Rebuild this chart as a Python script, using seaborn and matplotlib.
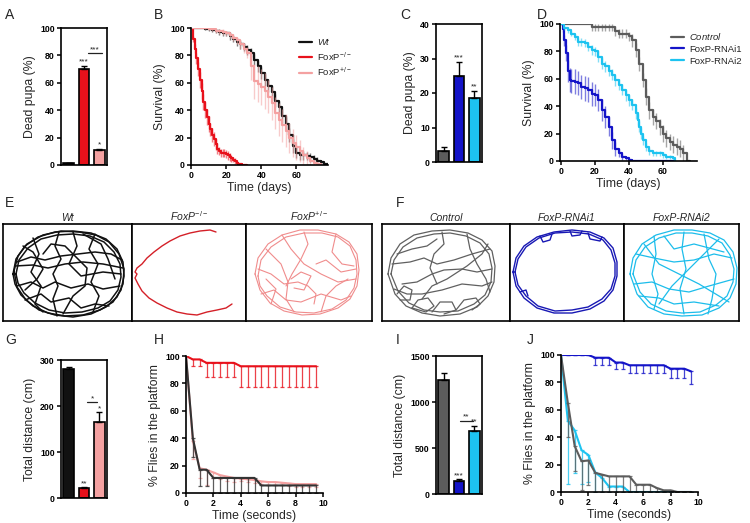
import numpy as np
import pandas as pd
import matplotlib
matplotlib.use('Agg')
import matplotlib.pyplot as plt
import seaborn as sns

sns.set_theme(style='ticks')
plt.rcParams['font.family'] = ['Liberation Sans', 'DejaVu Sans']
plt.rcParams['mathtext.fontset'] = 'custom'
plt.rcParams['mathtext.rm'] = 'Liberation Sans'
plt.rcParams['mathtext.it'] = 'Liberation Sans:italic'
plt.rcParams['mathtext.default'] = 'regular'
plt.rcParams['axes.linewidth'] = 1.2

# ============================================
# Colours
# ============================================
BLACK = '#111111'
RED = '#E8111B'
PINK = '#F4A1A1'
GRAY = '#5C5C5C'
BLUE = '#1414C8'
CYAN = '#1DC3F0'

# ============================================
# Data
# ============================================
# A / C / G / I - bar charts
mut_groups = ['Wt', 'FoxP-/-', 'FoxP+/-']
rnai_groups = ['Control', 'FoxP-RNAi1', 'FoxP-RNAi2']

dead_pupa_mut = [1.2, 70, 11]
dead_pupa_mut_err = [0.3, 2.5, 1]
dead_pupa_rnai = [3.2, 25, 18.5]
dead_pupa_rnai_err = [1.2, 4, 2]
distance_mut = [280, 22, 165]
distance_mut_err = [5, 2, 22]
distance_rnai = [1240, 145, 680]
distance_rnai_err = [70, 15, 60]

# B - survival of mutants
wt_days = [0, 2, 4, 6, 8, 10, 12, 14, 16, 18, 20, 22, 24, 26, 28, 30, 32, 34, 36, 38,
           40, 42, 44, 46, 48, 50, 52, 54, 56, 58, 60, 62, 64, 66, 68, 70, 72, 74, 76, 78]
wt_surv = [100, 100, 100, 100, 99.5, 99, 98.5, 98, 97, 96.5, 96, 94, 92, 90, 88, 86, 84, 82, 77, 72,
           67, 62, 58, 53, 47, 42, 36, 30, 22, 14, 9, 7.5, 7, 6.5, 5.5, 4.5, 3, 2, 0.5, 0]
wt_sem = [0, 0, 0, 0, 1, 1, 1.5, 1.5, 2, 2, 2, 2.5, 2.5, 3, 3, 3, 3.5, 3.5, 4, 4,
          4.5, 4.5, 4.5, 5, 5, 5, 5, 5, 5, 5, 4, 3.5, 3, 3, 3, 3, 2.5, 2, 1, 0]

het_days = [0, 2, 4, 6, 8, 10, 12, 14, 16, 18, 20, 22, 24, 26, 28, 30, 32, 34, 36, 38,
            40, 42, 44, 46, 48, 50, 52, 54, 56, 58, 60, 62, 64, 66, 68, 70, 72, 74]
het_surv = [100, 100, 100, 100, 100, 99.5, 99, 98, 97.5, 97, 96, 95, 93, 91, 88, 85, 82, 72, 61, 59,
            57, 54, 50, 45, 38, 33, 29, 25, 20, 16, 13, 10, 7, 5, 3, 1.5, 1, 0]
het_sem = [0, 0, 0, 0, 1, 1, 1.5, 1.5, 2, 2, 2, 2, 2.5, 2.5, 3, 3, 4, 10, 13, 13,
           13, 13, 12, 12, 12, 12, 12, 12, 11, 10, 9, 8, 6, 5, 3, 2, 1, 0]

hom_days = [0, 1, 2, 3, 4, 5, 6, 7, 8, 9, 10, 11, 12, 13, 14, 15, 16, 17, 18, 19,
            20, 21, 22, 23, 24, 25, 26, 27, 28, 29, 30, 31, 32]
hom_surv = [100, 92, 85, 78, 70, 62, 54, 46, 40, 35, 30, 26, 22, 19, 15, 12, 10, 9, 9, 8.5,
            8, 7, 6, 5, 4, 3, 1.5, 1, 0.5, 0, 0, 0, 0]
hom_sem = [0, 2, 3, 4, 5, 6, 6, 6, 6, 6, 6, 5, 5, 5, 4, 4, 3, 3, 3, 3,
           3, 3, 3, 2.5, 2, 2, 1.5, 1, 0.5, 0, 0, 0, 0]

# D - survival of RNAi lines
ctrl_days = [0, 2, 4, 6, 8, 10, 12, 14, 16, 18, 20, 22, 24, 26, 28, 30, 32, 34, 36, 38,
             40, 42, 44, 46, 48, 50, 52, 54, 56, 58, 60, 62, 64, 66, 68, 70, 72, 74, 76]
ctrl_surv = [100, 100, 100, 100, 100, 100, 100, 100, 100, 97.5, 97.5, 97.5, 97.5, 97.5, 97.5, 97.5, 95, 93, 93, 93,
             91, 88, 81, 71, 59, 47, 37, 32, 29, 25, 20, 16.5, 14, 12, 10.5, 9, 5.5, 0, 0]
ctrl_sem = [0, 0, 0, 0, 0, 0, 0, 0, 0, 2.5, 2.5, 2.5, 2.5, 2.5, 2.5, 2.5, 3.5, 3.5, 3.5, 3.5,
            3.5, 5, 5, 5, 5, 6, 6, 6, 6, 6, 6, 6, 6, 6, 6, 6, 6, 0, 0]

ri1_days = [0, 1, 2, 3, 4, 5, 6, 8, 10, 12, 14, 16, 18, 20, 22, 24, 26, 28, 30, 32,
            34, 36, 38, 40, 42, 50, 60, 67]
ri1_surv = [100, 96, 88, 79, 66, 59, 58.5, 58, 57, 54, 53, 52, 49, 48, 44.5, 37, 32, 25, 15, 9,
            5.6, 3, 2, 0.7, 0, 0, 0, 0]
ri1_sem = [0, 2, 4, 6, 8, 9, 9, 9, 9, 9, 9, 9, 9, 8, 8, 8, 8, 7, 6, 5,
           3, 2, 1, 0.5, 0, 0, 0, 0]

ri2_days = [0, 2, 4, 6, 8, 10, 12, 14, 16, 18, 20, 22, 24, 26, 28, 30, 32, 34, 36, 38,
            40, 42, 44, 45, 46, 47, 48, 50, 52, 54, 56, 58, 60, 62, 64, 66, 67]
ri2_surv = [100, 97, 95.6, 93, 90.5, 87, 87, 86, 83.5, 81, 80, 76, 71, 69, 66, 63, 59, 55.5, 52, 48,
            44.5, 41, 35, 30, 25, 20, 15, 10.5, 7, 5.6, 5.6, 5.6, 4.4, 3, 3, 2, 0]
ri2_sem = [0, 1.5, 2, 2, 2.5, 3, 3, 3, 3.5, 3.5, 3.5, 4, 4, 4, 4, 4, 4, 4, 4, 4,
           4, 4, 4, 4, 4, 4, 3.5, 3, 2.5, 2, 2, 2, 2, 1.5, 1.5, 1, 0]

# H / J - flies remaining on the platform
platform_t = [0, 0.5, 1, 1.5, 2, 2.5, 3, 3.5, 4, 4.5, 5, 5.5, 6, 6.5, 7, 7.5, 8, 8.5, 9, 9.5]
plat_hom = [100, 97.5, 97.5, 95, 95, 95, 95, 95, 92.5, 92.5, 92.5, 92.5, 92.5, 92.5, 92.5, 92.5, 92.5, 92.5, 92.5, 92.5]
plat_hom_err = [0, 5, 5, 10, 10, 10, 10, 10, 15, 15, 15, 15, 15, 15, 15, 15, 15, 15, 15, 15]
plat_het = [100, 38, 18, 17, 15, 13, 12, 11, 10.5, 10, 9.5, 8.5, 8, 8, 7.5, 7, 6.5, 6.5, 6.5, 6.5]
plat_het_err = [0, 13, 7, 11, 4, 3, 3, 3, 2, 2, 2, 2, 2, 2, 2, 2, 2, 2, 2, 2]
plat_wt = [100, 40, 17, 17, 11, 11, 11, 11, 11, 11, 11, 5.5, 5.5, 5.5, 5.5, 5.5, 5.5, 5.5, 5.5, 5.5]
plat_wt_err = [0, 14, 12, 12, 11, 11, 11, 11, 11, 11, 11, 5.5, 5.5, 5.5, 5.5, 5.5, 5.5, 5.5, 5.5, 5.5]

plat_ri1 = [100, 100, 100, 100, 100, 98, 98, 98, 94.5, 94.5, 92.5, 92.5, 92.5, 92.5, 92.5, 92.5, 90, 90, 90, 88]
plat_ri1_err = [0, 0, 0, 0, 0, 5, 5, 5, 4.5, 4.5, 6, 6, 6, 6, 6, 6, 7, 7, 7, 9]
plat_ri2 = [100, 52, 45, 30.5, 27, 14.3, 10.2, 4, 4, 4, 0, 0, 0, 0, 0, 0, 0, 0, 0, 0]
plat_ri2_err = [0, 46, 31, 25, 20, 14, 10, 4, 4, 4, 0, 0, 0, 0, 0, 0, 0, 0, 0, 0]
plat_ctrl = [100, 65, 33.5, 22.5, 23, 14, 12.7, 11.4, 11.4, 11.4, 11.4, 5.3, 5.3, 5.3, 2.9, 1.2, 1.2, 0, 0, 0]
plat_ctrl_err = [0, 25, 18, 21, 18, 14, 12.7, 11.4, 11.4, 11.4, 11.4, 5.3, 5.3, 5.3, 2.9, 1.2, 1.2, 0, 0, 0]

# E / F - walking tracks (box-relative pixel coords, y down)
track_wt = [
    [(10, 50), (13, 35), (22, 22), (35, 13), (52, 8), (70, 7), (88, 9), (103, 15), (114, 25), (120, 38), (121, 52),
     (118, 66), (110, 78), (97, 86), (80, 91), (62, 92), (45, 89), (30, 82), (18, 71), (12, 60), (10, 50)],
    [(13, 50), (16, 36), (25, 24), (38, 15), (54, 11), (70, 10), (87, 12), (101, 18), (111, 28), (117, 40), (118, 53),
     (115, 66), (107, 77), (95, 84), (79, 88), (62, 89), (46, 86), (32, 79), (21, 69), (15, 59), (13, 50)],
    [(11, 47), (15, 32), (24, 20), (40, 11), (58, 7), (76, 8), (93, 11), (106, 18), (116, 30), (121, 45), (120, 60),
     (114, 73), (103, 83), (88, 90), (70, 93), (52, 91), (36, 86), (23, 76), (14, 63), (11, 47)],
    [(14, 38), (28, 33), (42, 36), (58, 32), (75, 30), (92, 28), (108, 30), (119, 36)],
    [(12, 42), (30, 41), (45, 44), (62, 40), (80, 38), (100, 40), (120, 44)],
    [(56, 8), (52, 22), (58, 35), (50, 50), (55, 62), (50, 75), (54, 92)],
    [(30, 14), (36, 30), (28, 48), (38, 62), (32, 80), (40, 88)],
    [(92, 10), (86, 25), (95, 40), (88, 58), (96, 72), (90, 88)],
    [(14, 62), (28, 58), (40, 64), (52, 58), (68, 64), (85, 60), (100, 65), (117, 62)],
    [(22, 76), (38, 70), (48, 78), (66, 74), (78, 84), (92, 80), (106, 82)],
    [(70, 8), (74, 22), (66, 40), (78, 52), (100, 48), (118, 50)],
    [(20, 22), (30, 28), (40, 45), (34, 55), (22, 66)],
    [(80, 10), (98, 20), (105, 35), (112, 55)],
    [(40, 30), (48, 20), (62, 22), (70, 30), (84, 44), (82, 62), (70, 72), (60, 90)],
]
track_hom = [
    [(84, 8), (78, 6), (68, 7), (58, 9), (48, 12), (38, 17), (30, 22), (22, 28), (15, 34), (10, 40), (5, 44),
     (3, 48), (5, 50), (3, 54), (6, 60), (10, 67), (17, 74), (25, 79), (35, 84), (45, 88), (55, 90), (65, 91),
     (75, 88), (85, 86), (94, 84), (100, 80)],
]
track_het = [
    [(9, 50), (12, 34), (22, 20), (36, 11), (54, 6), (72, 6), (90, 10), (103, 18), (111, 30), (113, 46), (111, 62),
     (104, 75), (92, 84), (74, 90), (56, 91), (38, 87), (24, 79), (14, 66), (9, 50)],
    [(12, 52), (15, 36), (25, 23), (40, 13), (58, 9), (76, 9), (92, 13), (104, 22), (110, 36), (111, 50), (108, 64),
     (100, 76), (86, 85), (68, 89), (50, 88), (34, 83), (21, 72), (14, 62), (12, 52)],
    [(20, 25), (35, 40), (42, 58), (40, 75), (48, 88)],
    [(36, 11), (45, 25), (58, 40), (75, 50), (92, 58), (110, 55)],
    [(58, 8), (62, 20), (55, 35), (46, 50), (40, 62)],
    [(90, 10), (86, 28), (96, 40), (108, 42)],
    [(12, 45), (25, 50), (38, 60), (52, 58), (62, 62), (70, 70), (68, 80)],
    [(45, 55), (55, 48), (65, 52), (58, 66), (48, 64)],
    [(70, 40), (80, 36), (95, 48), (110, 45)],
    [(15, 70), (28, 66), (40, 76), (55, 78), (75, 70), (95, 76), (105, 72)],
    [(75, 88), (80, 72), (90, 62), (102, 55)],
    [(25, 80), (30, 65), (20, 55)],
]
track_ctrl = [
    [(6, 50), (9, 34), (18, 20), (32, 11), (50, 7), (68, 6), (86, 9), (100, 16), (110, 27), (113, 42), (112, 58),
     (106, 72), (95, 83), (78, 90), (58, 92), (40, 89), (24, 82), (13, 70), (6, 50)],
    [(9, 50), (12, 36), (21, 23), (35, 14), (52, 10), (68, 9), (84, 12), (98, 19), (107, 30), (110, 44), (109, 58),
     (103, 71), (92, 80), (76, 87), (58, 88), (42, 86), (27, 79), (16, 67), (9, 50)],
    [(30, 84), (36, 76), (46, 74), (52, 82), (44, 88), (30, 84)],
    [(50, 88), (58, 78), (70, 78), (74, 86), (62, 90)],
    [(74, 86), (82, 76), (94, 74), (98, 80), (90, 86)],
    [(15, 70), (22, 62), (30, 66), (28, 76), (18, 76)],
    [(10, 40), (28, 38), (42, 34), (55, 40), (72, 36), (90, 30), (108, 25)],
    [(20, 60), (35, 58), (50, 50), (62, 46), (80, 45), (95, 48), (110, 45)],
    [(40, 75), (50, 62), (65, 55), (85, 42), (100, 30), (106, 20)],
    [(15, 30), (30, 25), (45, 22), (55, 15)],
    [(85, 10), (88, 25), (95, 40), (104, 55), (108, 68)],
    [(60, 8), (62, 20), (52, 30), (48, 44), (55, 60)],
    [(12, 65), (25, 70), (40, 70), (60, 66), (80, 60), (100, 62), (110, 58)],
]
track_ri1 = [
    [(3, 48), (6, 34), (14, 22), (27, 13), (44, 8), (62, 6), (80, 8), (94, 14), (103, 24), (107, 38), (107, 52),
     (103, 66), (94, 77), (80, 85), (62, 89), (44, 89), (27, 84), (14, 74), (6, 62), (3, 48)],
    [(5, 48), (8, 35), (16, 23), (29, 14), (45, 9), (62, 8), (79, 10), (93, 16), (101, 26), (105, 39), (105, 52),
     (101, 65), (92, 75), (78, 83), (62, 86), (45, 87), (28, 82), (16, 72), (8, 61), (5, 48)],
    [(30, 12), (33, 18), (40, 16), (42, 10)],
    [(78, 9), (80, 15), (90, 17), (92, 13)],
    [(10, 68), (16, 66), (18, 72)],
    [(60, 7), (62, 12), (70, 11), (72, 7)],
]
track_ri2 = [
    [(6, 50), (9, 34), (18, 20), (32, 11), (50, 6), (68, 6), (86, 9), (100, 16), (109, 28), (113, 44), (112, 60),
     (106, 74), (95, 84), (78, 91), (58, 92), (40, 90), (24, 83), (13, 70), (6, 50)],
    [(9, 50), (12, 36), (21, 23), (35, 14), (52, 9), (68, 9), (84, 12), (98, 19), (106, 31), (110, 45), (109, 58),
     (103, 72), (92, 81), (76, 88), (58, 89), (42, 87), (27, 80), (16, 68), (9, 50)],
    [(12, 30), (30, 34), (50, 38), (70, 36), (90, 30), (108, 34)],
    [(20, 20), (35, 40), (55, 50), (75, 60), (95, 72), (105, 78)],
    [(30, 12), (32, 30), (28, 50), (34, 70), (30, 85)],
    [(95, 15), (80, 30), (62, 48), (48, 62), (35, 80)],
    [(60, 8), (58, 25), (62, 45), (56, 65), (60, 90)],
    [(10, 60), (28, 58), (45, 65), (65, 68), (85, 62), (110, 55)],
    [(80, 10), (85, 35), (92, 50), (88, 75), (84, 90)],
    [(15, 72), (35, 74), (50, 80), (70, 78), (95, 82)],
    [(40, 12), (50, 25), (70, 20), (100, 28)],
]

# ============================================
# Layout helpers
# ============================================
FW, FH = 750, 523
fig = plt.figure(figsize=(7.5, 5.23), dpi=100)


def rect(l, t, r, b):
    return [l / FW, 1 - b / FH, (r - l) / FW, (b - t) / FH]


def style_ticks(ax):
    ax.tick_params(direction='out', length=3, width=1.1, labelsize=6.3, pad=1.5, colors='black')
    for lbl in ax.get_xticklabels() + ax.get_yticklabels():
        lbl.set_fontweight('bold')
    for s in ax.spines.values():
        s.set_color('black')


def bar_panel(box, groups, vals, errs, colors, ylim, yticks, ylabel):
    ax = fig.add_axes(rect(*box))
    df = pd.DataFrame({'group': groups, 'value': vals})
    sns.barplot(data=df, x='group', y='value', hue='group', palette=dict(zip(groups, colors)),
                legend=False, width=0.7, saturation=1, edgecolor='black', linewidth=1.2,
                errorbar=None, ax=ax)
    ax.errorbar(range(len(vals)), vals, yerr=[[0] * len(vals), errs], fmt='none',
                ecolor='black', elinewidth=1, capsize=2, capthick=1)
    ax.set_xlim(-0.5, 2.5)
    ax.set_ylim(*ylim)
    ax.set_yticks(yticks)
    ax.set_xticks([])
    ax.set_xlabel('')
    ax.set_ylabel(ylabel, fontsize=8.8, labelpad=3)
    style_ticks(ax)
    return ax


def survival_panel(box, series, xticks, xlim, legend_anchor):
    ax = fig.add_axes(rect(*box))
    for days, surv, sem, color, label in series:
        d = np.array(days, dtype=float)
        s = np.array(surv, dtype=float)
        e = np.array(sem, dtype=float)
        ax.vlines(d[e > 0], (s - e)[e > 0], (s + e)[e > 0], color=color, alpha=0.55, lw=1.0)
        sns.lineplot(x=d, y=s, color=color, lw=1.6, drawstyle='steps-post', estimator=None,
                     label=label, ax=ax)
    ax.set_xlim(*xlim)
    ax.set_ylim(0, 100)
    ax.set_xticks(xticks)
    ax.set_yticks([0, 20, 40, 60, 80, 100])
    ax.set_xlabel('Time (days)', fontsize=8.8, labelpad=1)
    ax.set_ylabel('Survival (%)', fontsize=8.8, labelpad=3)
    sns.despine(ax=ax)
    ax.legend(frameon=False, fontsize=6.8, loc='upper left', bbox_to_anchor=legend_anchor,
              handlelength=1.4, handletextpad=0.5, labelspacing=0.3, borderpad=0, borderaxespad=0)
    style_ticks(ax)
    return ax


def platform_panel(box, series):
    ax = fig.add_axes(rect(*box))
    t = np.array(platform_t)
    for vals, errs, color in series:
        v = np.array(vals, dtype=float)
        e = np.array(errs, dtype=float)
        ax.errorbar(t[1:], v[1:], yerr=[e[1:], np.zeros(len(e) - 1)], fmt='none', ecolor=color,
                    elinewidth=0.9, capsize=1.5, capthick=0.9, alpha=0.8)
        sns.lineplot(x=t, y=v, color=color, lw=1.5, estimator=None, ax=ax)
    ax.set_xlim(0, 10)
    ax.set_ylim(0, 100)
    ax.set_xticks([0, 2, 4, 6, 8, 10])
    ax.set_yticks([0, 20, 40, 60, 80, 100])
    ax.set_xlabel('Time (seconds)', fontsize=8.8, labelpad=1)
    ax.set_ylabel('% Flies in the platform', fontsize=8.8, labelpad=3)
    sns.despine(ax=ax)
    style_ticks(ax)
    return ax


def arena(box, title, paths, color, lw):
    ax = fig.add_axes(rect(*box))
    for p in paths:
        ax.plot([q[0] for q in p], [q[1] for q in p], color=color, lw=lw, solid_joinstyle='round')
    ax.set_xlim(0, box[2] - box[0])
    ax.set_ylim(box[3] - box[1], 0)
    ax.set_xticks([])
    ax.set_yticks([])
    for s in ax.spines.values():
        s.set_color('black')
        s.set_linewidth(1.2)
    ax.set_title(title, fontsize=7.5, pad=2, fontstyle='italic')
    return ax


def stars(ax, x, y, txt):
    ax.text(x, y, txt, ha='center', va='bottom', fontsize=6, color='#222222')


def bracket(ax, x0, x1, y, txt):
    ax.plot([x0, x1], [y, y], color='#222222', lw=0.9)
    stars(ax, (x0 + x1) / 2, y, txt)


# ============================================
# A - dead pupa, mutants
# ============================================
axA = bar_panel((61, 28, 107, 165), mut_groups, dead_pupa_mut, dead_pupa_mut_err,
                [BLACK, RED, PINK], (0, 100), [0, 20, 40, 60, 80, 100], 'Dead pupa (%)')
stars(axA, 1, 72.5, '***')
stars(axA, 2, 12, '*')
bracket(axA, 1.25, 2.15, 81.5, '***')

# B - survival, mutants
survival_panel((191, 28, 328, 165),
               [(wt_days, wt_surv, wt_sem, BLACK, r'$\mathit{Wt}$'),
                (hom_days, hom_surv, hom_sem, RED, r'FoxP$^{-/-}$'),
                (het_days, het_surv, het_sem, PINK, r'FoxP$^{+/-}$')],
               [0, 20, 40, 60], (0, 78), (0.79, 0.94))

# C - dead pupa, RNAi
axC = bar_panel((436, 24, 482, 162), rnai_groups, dead_pupa_rnai, dead_pupa_rnai_err,
                [GRAY, BLUE, CYAN], (0, 40), [0, 10, 20, 30, 40], 'Dead pupa (%)')
stars(axC, 1, 29.3, '***')
stars(axC, 2, 20.7, '**')

# D - survival, RNAi
survival_panel((560, 24, 697, 161),
               [(ctrl_days, ctrl_surv, ctrl_sem, GRAY, r'$\mathit{Control}$'),
                (ri1_days, ri1_surv, ri1_sem, BLUE, 'FoxP-RNAi1'),
                (ri2_days, ri2_surv, ri2_sem, CYAN, 'FoxP-RNAi2')],
               [0, 20, 40, 60], (-0.6, 80), (0.81, 0.95))

# E / F - tracks
arena((3, 224, 132, 321), 'Wt', track_wt, BLACK, 1.1)
arena((132, 224, 246, 321), r'$\mathit{FoxP^{-/-}}$', track_hom, '#D42028', 1.0)
arena((246, 224, 372, 321), r'$\mathit{FoxP^{+/-}}$', track_het, '#F08C8C', 0.8)
arena((382, 224, 510, 321), 'Control', track_ctrl, '#606060', 0.9)
arena((510, 224, 624, 321), 'FoxP-RNAi1', track_ri1, '#1818B4', 1.0)
arena((624, 224, 739, 321), 'FoxP-RNAi2', track_ri2, '#1CBDEB', 0.9)

# G - total distance, mutants
axG = bar_panel((61, 360, 107, 498), mut_groups, distance_mut, distance_mut_err,
                [BLACK, RED, PINK], (0, 300), [0, 100, 200, 300], 'Total distance (cm)')
stars(axG, 1, 23, '**')
stars(axG, 2, 187, '*')
bracket(axG, 1.2, 1.85, 208, '*')

# H - platform, mutants
platform_panel((186, 356, 323, 493),
               [(plat_hom, plat_hom_err, RED),
                (plat_het, plat_het_err, PINK),
                (plat_wt, plat_wt_err, '#333333')])

# I - total distance, RNAi
axI = bar_panel((436, 356, 482, 494), rnai_groups, distance_rnai, distance_rnai_err,
                [GRAY, BLUE, CYAN], (0, 1500), [0, 500, 1000, 1500], 'Total distance (cm)')
stars(axI, 1, 160, '***')
stars(axI, 2, 742, '**')
bracket(axI, 1.05, 1.9, 795, '**')

# J - platform, RNAi
platform_panel((561, 355, 698, 492),
               [(plat_ri1, plat_ri1_err, BLUE),
                (plat_ri2, plat_ri2_err, CYAN),
                (plat_ctrl, plat_ctrl_err, GRAY)])

# Panel letters
for letter, x, y in [('A', 5, 15), ('B', 154, 15), ('C', 400, 15), ('D', 537, 15),
                     ('E', 5, 203), ('F', 396, 203),
                     ('G', 5, 340), ('H', 154, 340), ('I', 396, 340), ('J', 527, 340)]:
    fig.text(x / FW, 1 - y / FH, letter, fontsize=10, ha='left', va='center')

plt.savefig('out.png', dpi=100)
plt.close()
